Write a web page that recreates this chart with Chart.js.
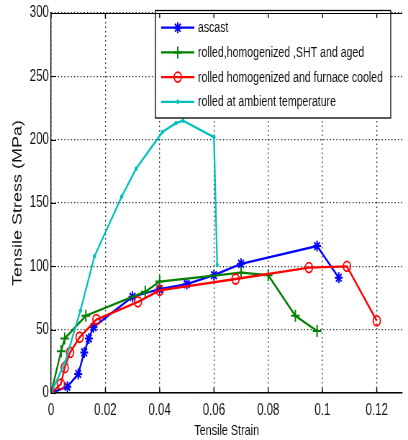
<!DOCTYPE html>
<html>
<head>
<meta charset="utf-8">
<style>
  html, body { margin: 0; padding: 0; overflow: hidden; background: #fff; }
  canvas { display: block; }
</style>
<script src="https://cdn.jsdelivr.net/npm/chart.js@4/dist/chart.umd.min.js"></script>
</head>
<body>
<!-- the figure is drawn wider and squeezed to 408px, like the stretched original picture -->
<canvas id="c" width="567" height="440" style="width:408px;height:440px"></canvas>
<script>
// ---- data ----
const seriesNames = [
  'ascast',
  'rolled,homogenized ,SHT and aged',
  'rolled homogenized and furnace cooled',
  'rolled at ambient temperature'
];

const ascastStrain = [0, 0.006, 0.010, 0.0122, 0.0139, 0.0156, 0.030, 0.040, 0.050, 0.060, 0.070, 0.098, 0.106];
const ascastStress = [0, 5, 15, 32, 43, 52, 76, 82, 86, 93, 102, 116, 91];

const agedStrain = [0, 0.0037, 0.005, 0.0128, 0.0347, 0.040, 0.070, 0.080, 0.090, 0.098];
const agedStress = [0, 33, 43, 61, 80, 88, 95, 93, 61, 49];

const furnaceStrain = [0, 0.0036, 0.005, 0.007, 0.0105, 0.0167, 0.032, 0.040, 0.068, 0.095, 0.109, 0.120];
const furnaceStress = [0, 7, 20, 32, 44, 58, 72, 81, 90, 99, 100, 57];

const ambientStrain = [0, 0.0051, 0.0108, 0.016, 0.026, 0.0313, 0.041, 0.046, 0.0486, 0.060, 0.0612];
const ambientStress = [0, 24, 65, 108, 155, 177, 206, 213, 215, 202, 101];

const xTickStep = 0.02;
const yTickStep = 50;

function pts(xs, ys) { return xs.map((x, i) => ({ x: x, y: ys[i] })); }

const sans = "'Liberation Sans', Arial, sans-serif";

const legendBox = {
  id: 'legendBox',
  afterDatasetsDraw(chart) {
    const ctx = chart.ctx;
    const ds = chart.data.datasets;
    ctx.save();
    ctx.fillStyle = '#fff';
    ctx.fillRect(216, 10.5, 327, 107.5);
    ctx.strokeStyle = '#000';
    ctx.lineWidth = 1.3;
    ctx.strokeRect(216, 10.5, 327, 107.5);
    ds.forEach((d, i) => {
      const y = 27.7 + i * 24.7;
      ctx.strokeStyle = d.borderColor;
      ctx.lineWidth = d.borderWidth;
      ctx.setLineDash([]);
      ctx.beginPath();
      ctx.moveTo(224, y);
      ctx.lineTo(270, y);
      ctx.stroke();
      ctx.fillStyle = d.pointBackgroundColor;
      ctx.strokeStyle = d.pointBorderColor;
      ctx.lineWidth = d.pointBorderWidth;
      Chart.helpers.drawPoint(ctx, {
        pointStyle: d.pointStyle, radius: d.pointRadius,
        borderWidth: d.pointBorderWidth, rotation: 0
      }, 247, y);
      ctx.fillStyle = '#111';
      ctx.font = "14.7px " + sans;
      ctx.textAlign = 'left';
      ctx.textBaseline = 'middle';
      ctx.fillText(d.label, 275, y + 0.5);
    });
    ctx.restore();
  }
};

// top frame line and MATLAB-style inward tick marks
const frameTicks = {
  id: 'frameTicks',
  afterDraw(chart) {
    const a = chart.chartArea;
    const ctx = chart.ctx;
    const xs = chart.scales.x, ys = chart.scales.y;
    ctx.save();
    ctx.strokeStyle = '#000';
    ctx.lineWidth = 1;
    ctx.beginPath();
    ctx.moveTo(a.left, a.top + 0.5);
    ctx.lineTo(a.right, a.top + 0.5);
    ctx.stroke();
    ctx.lineWidth = 1.4;
    ctx.beginPath();
    xs.ticks.forEach(t => {
      const px = xs.getPixelForValue(t.value);
      ctx.moveTo(px, a.bottom); ctx.lineTo(px, a.bottom - 5);
      ctx.moveTo(px, a.top); ctx.lineTo(px, a.top + 5);
    });
    ctx.stroke();
    ctx.lineWidth = 1;
    ctx.beginPath();
    ys.ticks.forEach(t => {
      const py = Math.round(ys.getPixelForValue(t.value)) + 0.5;
      ctx.moveTo(a.left, py); ctx.lineTo(a.left + 7, py);
    });
    ctx.stroke();
    ctx.restore();
  }
};

new Chart(document.getElementById('c'), {
  type: 'line',
  data: {
    datasets: [
      {
        label: seriesNames[0], data: pts(ascastStrain, ascastStress),
        borderColor: '#0000ff', borderWidth: 2.3,
        pointStyle: 'star', pointRadius: 5.5, pointBorderWidth: 2,
        pointBorderColor: '#0000ff', pointBackgroundColor: '#0000ff',
        order: 4, tension: 0, fill: false
      },
      {
        label: seriesNames[1], data: pts(agedStrain, agedStress),
        borderColor: '#008000', borderWidth: 2.3,
        pointStyle: 'cross', pointRadius: 6, pointBorderWidth: 2,
        pointBorderColor: '#008000', pointBackgroundColor: '#008000',
        order: 3, tension: 0, fill: false
      },
      {
        label: seriesNames[2], data: pts(furnaceStrain, furnaceStress),
        borderColor: '#ff0000', borderWidth: 2.3,
        pointStyle: 'circle', pointRadius: 5, pointBorderWidth: 1.8,
        pointBorderColor: '#ff0000', pointBackgroundColor: 'rgba(0,0,0,0)',
        order: 2, tension: 0, fill: false
      },
      {
        label: seriesNames[3], data: pts(ambientStrain, ambientStress),
        borderColor: '#00bfbf', borderWidth: 2.3,
        pointStyle: 'circle', pointRadius: 1.8, pointBorderWidth: 1,
        pointBorderColor: '#00bfbf', pointBackgroundColor: '#00bfbf',
        order: 1, tension: 0, fill: false
      }
    ]
  },
  options: {
    responsive: false,
    animation: false,
    devicePixelRatio: 1,
    layout: { padding: { top: 13, right: 0, left: 0, bottom: 0 } },
    plugins: { legend: { display: false }, tooltip: { enabled: false } },
    scales: {
      x: {
        type: 'linear', min: 0, max: 0.1294,
        afterFit: s => { s.height = 47; },
        ticks: {
          stepSize: xTickStep, includeBounds: false, autoSkip: false, maxRotation: 0,
          padding: 8, color: '#111', font: { family: sans, size: 16 },
          callback: v => String(Math.round(v * 100) / 100)
        },
        grid: { color: '#222', lineWidth: 1.3, drawTicks: false },
        border: { color: '#000', width: 1.4, dash: [1.5, 3] },
        title: {
          display: true, text: 'Tensile Strain', color: '#111',
          font: { family: sans, size: 15 }, padding: { top: 0, bottom: 0 }
        }
      },
      y: {
        type: 'linear', min: 0, max: 300,
        afterFit: s => { s.width = 71; },
        ticks: {
          stepSize: yTickStep, padding: 3, color: '#111',
          font: { family: sans, size: 16 }
        },
        grid: { color: '#222', lineWidth: 1.3, drawTicks: false },
        border: { color: '#000', width: 1.4, dash: [1.5, 3] },
        title: {
          display: true, text: 'Tensile Stress (MPa)', color: '#111',
          font: { family: sans, size: 18 }, padding: { top: 14, bottom: 0 }
        }
      }
    }
  },
  plugins: [legendBox, frameTicks]
});
</script>
</body>
</html>
